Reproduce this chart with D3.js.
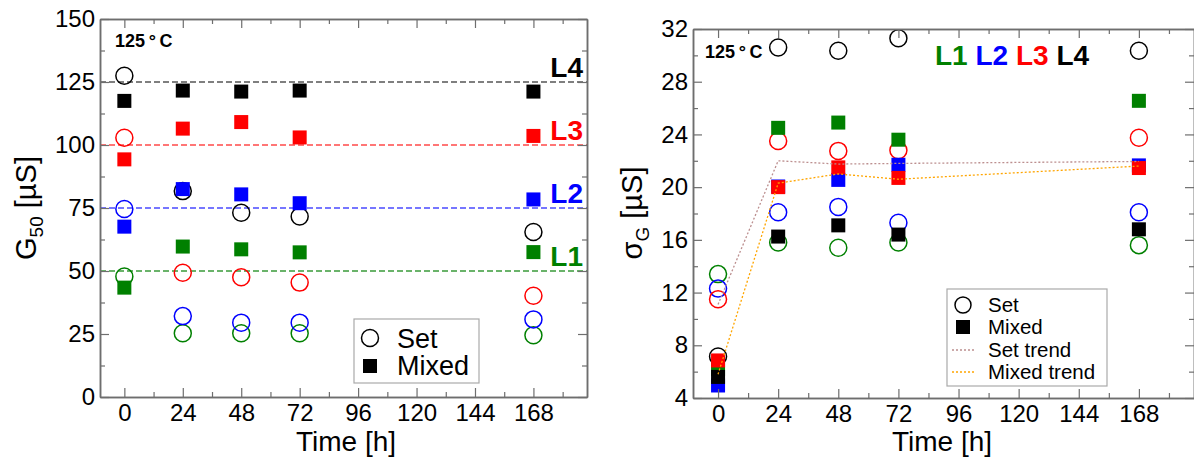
<!DOCTYPE html>
<html><head><meta charset="utf-8">
<script src="https://cdn.jsdelivr.net/npm/d3@7"></script>
<style>
body{margin:0;background:#fff;}
text{font-family:"Liberation Sans",Arial,Helvetica,sans-serif;}
</style></head>
<body>
<script>
// ---------- data ----------
const times = [0, 24, 48, 72, 168];
const levels = ["L1", "L2", "L3", "L4"];
const levelColors = ["#008000", "#0000ff", "#ff0000", "#000000"];
const refLevels = [50, 75, 100, 125];

// G50 [uS]
const g50Set_L1 = [47.8, 25.3, 25.3, 25.3, 24.5];
const g50Set_L2 = [74.6, 32.1, 29.5, 29.5, 30.8];
const g50Set_L3 = [102.9, 49.3, 47.5, 45.4, 40.2];
const g50Set_L4 = [127.5, 81.7, 73.1, 71.6, 65.5];
const g50Mixed_L1 = [43.4, 59.7, 58.6, 57.4, 57.5];
const g50Mixed_L2 = [67.6, 82.5, 80.4, 76.9, 78.4];
const g50Mixed_L3 = [94.3, 106.5, 109.1, 103.0, 103.6];
const g50Mixed_L4 = [117.5, 121.6, 121.2, 121.6, 121.2];

// sigma_G [uS]
const sigSet_L1 = [13.4, 15.8, 15.4, 15.8, 15.6];
const sigSet_L2 = [12.3, 18.1, 18.5, 17.3, 18.1];
const sigSet_L3 = [11.5, 23.5, 22.75, 22.8, 23.75];
const sigSet_L4 = [7.15, 30.6, 30.35, 31.3, 30.35];
const sigMixed_L1 = [6.2, 24.5, 24.9, 23.6, 26.55];
const sigMixed_L2 = [4.95, 20.05, 20.55, 21.7, 21.65];
const sigMixed_L3 = [6.85, 20.0, 21.5, 20.7, 21.45];
const sigMixed_L4 = [5.6, 16.25, 17.1, 16.4, 16.8];
const sigSetTrend = [11.1, 22.0, 21.75, 21.8, 21.95];
const sigMixedTrend = [5.8, 20.3, 21.0, 20.6, 21.6];

const xMajor = [0, 24, 48, 72, 96, 120, 144, 168];
const xMinor = [12, 36, 60, 84, 108, 132, 156, 180];
const g50Major = [0, 25, 50, 75, 100, 125, 150];
const g50Minor = [12.5, 37.5, 62.5, 87.5, 112.5, 137.5];
const sigMajor = [4, 8, 12, 16, 20, 24, 28, 32];
const sigMinor = [6, 10, 14, 18, 22, 26, 30];

// ---------- drawing ----------
const W = 1194, H = 460;
const svg = d3.select("body").append("svg").attr("width", W).attr("height", H);

const frameColor = "#6e6e6e";

function drawAxes(g, x, y, xMaj, xMin, yMaj, yMin) {
  const [x0, x1] = x.range();
  const [y0, y1] = y.range(); // y0 bottom, y1 top
  const styleAxis = sel => {
    sel.selectAll(".domain").attr("stroke", frameColor).attr("stroke-width", 1.5);
    sel.selectAll(".tick line").attr("stroke", frameColor).attr("stroke-width", 1.2);
    sel.selectAll("text").attr("font-size", 24).attr("fill", "#000")
      .attr("font-family", "Liberation Sans, Arial, sans-serif");
  };
  // bottom
  g.append("g").attr("transform", `translate(0,${y0})`)
    .call(d3.axisBottom(x).tickValues(xMaj).tickSize(-9).tickSizeOuter(0).tickPadding(7))
    .call(styleAxis);
  g.append("g").attr("transform", `translate(0,${y0})`)
    .call(d3.axisBottom(x).tickValues(xMin).tickSize(-5).tickSizeOuter(0).tickFormat(""))
    .call(styleAxis);
  // top
  g.append("g").attr("transform", `translate(0,${y1})`)
    .call(d3.axisTop(x).tickValues(xMaj).tickSize(-9).tickSizeOuter(0).tickFormat(""))
    .call(styleAxis);
  g.append("g").attr("transform", `translate(0,${y1})`)
    .call(d3.axisTop(x).tickValues(xMin).tickSize(-5).tickSizeOuter(0).tickFormat(""))
    .call(styleAxis);
  // left
  g.append("g").attr("transform", `translate(${x0},0)`)
    .call(d3.axisLeft(y).tickValues(yMaj).tickSize(-9).tickSizeOuter(0).tickPadding(5))
    .call(styleAxis);
  g.append("g").attr("transform", `translate(${x0},0)`)
    .call(d3.axisLeft(y).tickValues(yMin).tickSize(-5).tickSizeOuter(0).tickFormat(""))
    .call(styleAxis);
  // right
  g.append("g").attr("transform", `translate(${x1},0)`)
    .call(d3.axisRight(y).tickValues(yMaj).tickSize(-9).tickSizeOuter(0).tickFormat(""))
    .call(styleAxis);
  g.append("g").attr("transform", `translate(${x1},0)`)
    .call(d3.axisRight(y).tickValues(yMin).tickSize(-5).tickSizeOuter(0).tickFormat(""))
    .call(styleAxis);
}

function drawMarkers(g, x, y, setSeries, mixedSeries) {
  const r = 8.5, s = 14;
  setSeries.forEach((vals, i) => {
    g.append("g").selectAll("circle").data(vals).join("circle")
      .attr("cx", (d, j) => x(times[j])).attr("cy", d => y(d)).attr("r", r)
      .attr("fill", "none").attr("stroke", levelColors[i]).attr("stroke-width", 1.5);
  });
  // squares drawn: L1, L2, L4, L3
  [0, 1, 3, 2].forEach(i => {
    g.append("g").selectAll("rect").data(mixedSeries[i]).join("rect")
      .attr("x", (d, j) => x(times[j]) - s / 2).attr("y", d => y(d) - s / 2)
      .attr("width", s).attr("height", s).attr("fill", levelColors[i]);
  });
}

// ======== Left panel ========
const xL = d3.scaleLinear().domain([-10, 190]).range([100, 587]);
const yL = d3.scaleLinear().domain([0, 150]).range([397, 19]);
const gL = svg.append("g");

// reference dashed lines
const refColors = ["#3a9a3a", "#4a4aff", "#ff4a4a", "#555555"];
refLevels.forEach((v, i) => {
  gL.append("line").attr("x1", xL(-10)).attr("x2", xL(190))
    .attr("y1", yL(v)).attr("y2", yL(v))
    .attr("stroke", refColors[i]).attr("stroke-width", 1.3).attr("stroke-dasharray", "6,3");
});

drawMarkers(gL, xL, yL,
  [g50Set_L1, g50Set_L2, g50Set_L3, g50Set_L4],
  [g50Mixed_L1, g50Mixed_L2, g50Mixed_L3, g50Mixed_L4]);

drawAxes(gL, xL, yL, xMajor, xMinor, g50Major, g50Minor);

// level labels
refLevels.forEach((v, i) => {
  gL.append("text").attr("x", 583).attr("y", yL(v) - 5).attr("text-anchor", "end")
    .attr("font-size", 28).attr("font-weight", "bold").attr("fill", levelColors[i])
    .text(levels[i]);
});

gL.append("text").attr("x", 115).attr("y", 47).attr("font-size", 18).attr("font-weight", "bold")
  .text("125\u2009°\u2009C");

// legend left
const lgL = gL.append("g");
lgL.append("rect").attr("x", 354).attr("y", 319).attr("width", 125).attr("height", 64)
  .attr("fill", "#fff").attr("stroke", "#aaa").attr("stroke-width", 1.2);
lgL.append("circle").attr("cx", 370).attr("cy", 338).attr("r", 8.5)
  .attr("fill", "none").attr("stroke", "#000").attr("stroke-width", 1.5);
lgL.append("rect").attr("x", 363).attr("y", 359).attr("width", 14).attr("height", 14).attr("fill", "#000");
lgL.append("text").attr("x", 397).attr("y", 347.5).attr("font-size", 27).text("Set");
lgL.append("text").attr("x", 397).attr("y", 375).attr("font-size", 27).text("Mixed");

// axis titles
gL.append("text").attr("x", 346).attr("y", 451).attr("text-anchor", "middle").attr("font-size", 28).text("Time [h]");
const ylt = gL.append("text").attr("transform", "translate(36,208) rotate(-90)")
  .attr("text-anchor", "middle").attr("font-size", 29);
ylt.append("tspan").text("G");
ylt.append("tspan").attr("font-size", 19).attr("dy", 7).text("50");
ylt.append("tspan").attr("dy", -7).text(" [µS]");

// ======== Right panel ========
const xR = d3.scaleLinear().domain([-10, 190]).range([693, 1194]);
const yR = d3.scaleLinear().domain([4, 32]).range([398, 29]);
const gR = svg.append("g");

drawMarkers(gR, xR, yR,
  [sigSet_L1, sigSet_L2, sigSet_L3, sigSet_L4],
  [sigMixed_L1, sigMixed_L2, sigMixed_L3, sigMixed_L4]);

const line = (yS) => d3.line().x((d, j) => xR(times[j])).y(d => yS(d));
gR.append("path").datum(sigSetTrend).attr("d", line(yR))
  .attr("fill", "none").attr("stroke", "#bc8f8f").attr("stroke-width", 1.3).attr("stroke-dasharray", "2,2");
gR.append("path").datum(sigMixedTrend).attr("d", line(yR))
  .attr("fill", "none").attr("stroke", "#ffa500").attr("stroke-width", 1.3).attr("stroke-dasharray", "2,2");

drawAxes(gR, xR, yR, xMajor, xMinor, sigMajor, sigMinor);

gR.append("text").attr("x", 705).attr("y", 58).attr("font-size", 18).attr("font-weight", "bold")
  .text("125\u2009°\u2009C");

const lvlText = gR.append("text").attr("x", 935).attr("y", 65).attr("font-size", 28).attr("font-weight", "bold");
levels.forEach((l, i) => {
  lvlText.append("tspan").attr("fill", levelColors[i]).text((i ? " " : "") + l);
});

// legend right
const lgR = gR.append("g");
lgR.append("rect").attr("x", 947).attr("y", 289).attr("width", 160).attr("height", 97)
  .attr("fill", "#fff").attr("stroke", "#aaa").attr("stroke-width", 1.2);
lgR.append("circle").attr("cx", 963).attr("cy", 305).attr("r", 8)
  .attr("fill", "none").attr("stroke", "#000").attr("stroke-width", 1.5);
lgR.append("rect").attr("x", 956).attr("y", 320).attr("width", 14).attr("height", 14).attr("fill", "#000");
lgR.append("line").attr("x1", 952).attr("x2", 974).attr("y1", 350).attr("y2", 350)
  .attr("stroke", "#bc8f8f").attr("stroke-width", 1.3).attr("stroke-dasharray", "2,2");
lgR.append("line").attr("x1", 952).attr("x2", 974).attr("y1", 372).attr("y2", 372)
  .attr("stroke", "#ffa500").attr("stroke-width", 1.3).attr("stroke-dasharray", "2,2");
["Set", "Mixed", "Set trend", "Mixed trend"].forEach((t, i) => {
  lgR.append("text").attr("x", 988).attr("y", 312 + i * 22.3).attr("font-size", 20.5).text(t);
});

gR.append("text").attr("x", 942).attr("y", 451).attr("text-anchor", "middle").attr("font-size", 28).text("Time [h]");
const yrt = gR.append("text").attr("transform", "translate(642,213) rotate(-90)")
  .attr("text-anchor", "middle").attr("font-size", 29);
yrt.append("tspan").text("σ");
yrt.append("tspan").attr("font-size", 19).attr("dy", 7).text("G");
yrt.append("tspan").attr("dy", -7).text(" [µS]");
</script>
</body></html>
